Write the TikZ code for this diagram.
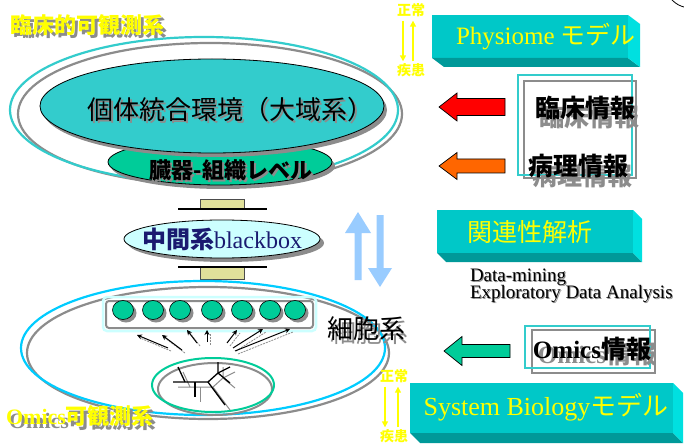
\documentclass[tikz,border=0pt]{standalone}
\usepackage{fontspec}
\setmainfont{Liberation Serif}
\newfontfamily\jp{Noto Sans CJK JP}
\usetikzlibrary{shapes.geometric,arrows.meta,calc}

\definecolor{tealfill}{HTML}{33CCCC}
\definecolor{mintfill}{HTML}{00CC99}
\definecolor{palecyan}{HTML}{CCFFFF}
\definecolor{ringcyan}{HTML}{33CCCC}
\definecolor{ringblue}{HTML}{00CCFF}
\definecolor{slabfront}{HTML}{00C8C8}
\definecolor{slabbottom}{HTML}{009999}
\definecolor{slabside}{HTML}{00E0E0}
\definecolor{shadegray}{HTML}{8C8C8C}
\definecolor{khaki}{HTML}{E0E09A}
\definecolor{skyarrow}{HTML}{99CCFF}
\definecolor{navytext}{HTML}{1A1A70}
\definecolor{arrowred}{HTML}{FF0000}
\definecolor{arroworange}{HTML}{FF6600}
\definecolor{labelyellow}{HTML}{FFFF00}

\tikzset{
  every node/.style={inner sep=0pt, outer sep=0pt},
  oval/.style={ellipse, draw=black, line width=0.8pt},
  ovalshade/.style={ellipse, fill=shadegray, draw=none},
  ring/.style={line width=2.2pt},
  slabface/.style={rectangle, fill=slabfront, draw=none},
  slabtext/.style={text=labelyellow, font=\fontsize{25}{28}\selectfont},
  bigtitle/.style={text=labelyellow, font=\jp\bfseries\fontsize{22}{26}\selectfont},
  statelabel/.style={text=labelyellow, font=\jp\bfseries\fontsize{14}{16}\selectfont},
  statearrow/.style={draw=labelyellow, line width=1.4pt, -{Triangle[length=6pt,width=6pt]}},
  infotext/.style={text=black, font=\jp\bfseries\fontsize{25}{28}\selectfont},
  notetext/.style={anchor=base west, font=\fontsize{19}{22}\selectfont},
  bead/.style={ellipse, fill=mintfill, draw=black, line width=0.6pt, minimum width=21pt, minimum height=19pt},
  beadshade/.style={ellipse, fill=shadegray, minimum width=21pt, minimum height=19pt},
  feed/.style={draw=black, line width=1pt, -{Stealth[length=5pt,width=5pt]}},
  feedshade/.style={draw=shadegray, line width=0.8pt, dash pattern=on 2pt off 1pt},
  branch/.style={draw=black, line width=1.3pt},
  branchshade/.style={draw=shadegray, line width=1pt},
  plug/.style={rectangle, fill=khaki, draw=black!70, line width=0.5pt},
}

% text with a grey drop copy behind it
\newcommand{\shadowtext}[5]{%
  \node[#3, text=shadegray, #4] at (#2) {#5};
  \node[#3] (#1) at (#2) {#5};}

% bevelled slab: name, left, top, width, height, depth x, depth y
\newcommand{\slab}[7]{%
  \node[slabface, minimum width=#4pt, minimum height=#5pt, anchor=north west] (#1) at (#2,#3) {};
  \fill[slabbottom] (#1.south west) -- (#1.south east) -- ++(#6,#7)
        -- ($(#1.south west)+(#6,#7)$) -- cycle;
  \fill[slabside] (#1.north east) -- ++(#6,#7) -- ($(#1.south east)+(#6,#7)$)
        -- (#1.south east) -- cycle;}

% left-pointing block arrow: colour, tip x, tip y, head base x, half head, half shaft, tail x
\newcommand{\blockarrow}[7]{%
  \filldraw[fill=#1, draw=black, line width=0.7pt]
    (#2,#3) -- (#4,#3-#5) -- (#4,#3-#6) -- (#7,#3-#6) -- (#7,#3+#6)
    -- (#4,#3+#6) -- (#4,#3+#5) -- cycle;}

\begin{document}
\begin{tikzpicture}[x=1pt,y=-1pt]
\useasboundingbox (0,0) rectangle (684,446);
\fill[white] (0,0) rectangle (684,446);

% ---------- upper (clinical) system ----------
\draw[ring, draw=shadegray] (210,114) ellipse [x radius=192, y radius=71];
\draw[ring, draw=ringcyan] (204,110) ellipse [x radius=194, y radius=73];

\node[ovalshade, minimum width=224pt, minimum height=46pt] at (223,166) {};
\node[oval, fill=mintfill, minimum width=224pt, minimum height=46pt] (organ) at (220,162) {};
\node[ovalshade, minimum width=344pt, minimum height=94pt] at (215,110) {};
\node[oval, fill=tealfill, minimum width=344pt, minimum height=94pt] (whole) at (212,106) {};

\shadowtext{wholetext}{230,110}{text=black, font=\jp\fontsize{26}{30}\selectfont}{xshift=2pt,yshift=-2pt}{個体統合環境（大域系）}
\shadowtext{organtext}{231,170}{text=black, font=\jp\bfseries\fontsize{22}{26}\selectfont}{xshift=2pt,yshift=-2pt}{臓器-組織レベル}

\shadowtext{clintitle}{87,25}{bigtitle}{xshift=3pt,yshift=-3pt}{臨床的可観測系}

% ---------- middle black box ----------
\node[plug, minimum width=44pt, minimum height=10pt] (plugA) at (222,204) {};
\draw[black, line width=1.1pt] (178,209) -- (267,209);
\node[ovalshade, minimum width=196pt, minimum height=38pt] at (226,243) {};
\node[oval, fill=palecyan, minimum width=196pt, minimum height=38pt] (mid) at (222,239) {};
\node[text=navytext, font=\fontsize{24}{28}\selectfont] (midtext) at (222,239)
  {{\jp\bfseries 中間系}blackbox};
\node[plug, minimum width=44pt, minimum height=12pt] (plugB) at (222,273) {};
\draw[black, line width=1.1pt] (178,267) -- (267,267);

% up / down flow arrows
\fill[skyarrow] (358,212) -- (371,233) -- (361.5,233) -- (361.5,280) -- (354.5,280)
  -- (354.5,233) -- (345,233) -- cycle;
\fill[skyarrow] (380,287) -- (392,268) -- (383.5,268) -- (383.5,215) -- (376.5,215)
  -- (376.5,268) -- (368,268) -- cycle;

% ---------- lower (omics) system ----------
\draw[ring, draw=shadegray] (208,353) ellipse [x radius=181, y radius=66];
\draw[ring, draw=ringblue] (203,348) ellipse [x radius=182, y radius=67];

\draw[line width=2pt, draw=shadegray, rounded corners=3pt] (106,301) rectangle (313,328);
\draw[line width=2.5pt, draw=palecyan, rounded corners=4pt] (103,297) rectangle (316,331);
\coordinate (strip) at (209,314);

\foreach \n/\x in {1/123,2/153,3/180,4/212,5/242,6/270,7/295}{
  \node[beadshade] at (\x+3,313) {};
  \node[bead] (c\n) at (\x,310) {};
}

% feeds from the network up to the bead strip
\foreach \n/\tx/\ty/\hx/\hy in {1/168/348/137/335, 2/182/350/162/335, 3/197/343/187/330,
    4/207/342/207/330, 5/227/343/237/330, 6/233/348/263/329, 7/235/351/290/329}{
  \coordinate (ft\n) at (\tx,\ty);
  \coordinate (fh\n) at (\hx,\hy);
  \draw[feedshade] ([xshift=3pt,yshift=-3pt]ft\n) -- ([xshift=3pt,yshift=-3pt]fh\n);
  \draw[feed] (ft\n) -- (fh\n);
}

% network ellipse with its branching graph
\draw[line width=2pt, draw=shadegray] (215,389) ellipse [x radius=57, y radius=26];
\draw[line width=2pt, draw=mintfill] (213,385) ellipse [x radius=61, y radius=27];
\coordinate (hubA) at (208,382);
\coordinate (hubB) at (218,373);
\begin{scope}[shift={(5,5)}]
  \draw[branchshade] (173,382) -- (208,382) -- (225,405);
  \draw[branchshade] (185,382) -- (178,367);
  \draw[branchshade] (195,382) -- (195,397);
  \draw[branchshade] (208,382) -- (218,373) -- (218,362);
  \draw[branchshade] (218,373) -- (230,367);
  \draw[branchshade] (218,373) -- (230,383);
\end{scope}
\draw[branch] (173,382) -- (hubA) -- (225,405);
\draw[branch] (185,382) -- (178,367);
\draw[branch] (195,382) -- (195,397);
\draw[branch] (hubA) -- (hubB) -- (218,362);
\draw[branch] (hubB) -- (230,367);
\draw[branch] (hubB) -- (230,383);

\shadowtext{celltext}{366,329}{text=black, font=\jp\fontsize{26}{30}\selectfont}{xshift=3pt,yshift=-4pt}{細胞系}
\shadowtext{omicstitle}{80,416}{text=labelyellow, font=\bfseries\fontsize{22}{26}\selectfont}{xshift=3pt,yshift=-4pt}{Omics{\jp\bfseries 可観測系}}

% ---------- right column ----------
\slab{physiome}{432}{15}{196}{43}{12}{9}
\node[slabtext] (physiometext) at (546,37) {Physiome {\jp モデル}};

\slab{relation}{437}{210}{196}{43}{9}{9}
\node[slabtext, font=\jp\fontsize{25}{28}\selectfont] (relationtext) at (530,232) {関連性解析};

\slab{sysbio}{410}{383}{263}{50}{10}{10}
\node[slabtext, font=\fontsize{26}{30}\selectfont] (sysbiotext) at (546,407) {System Biology{\jp モデル}};

% normal / disease state markers
\node[statelabel] (normA) at (411,10) {正常};
\node[statelabel] (illA) at (411,70) {疾患};
\draw[statearrow] ([xshift=-8pt,yshift=-4pt]normA.south) -- ([xshift=-8pt,yshift=2pt]illA.north);
\draw[statearrow] ([xshift=2pt,yshift=2pt]illA.north) -- ([xshift=2pt,yshift=-4pt]normA.south);

\node[statelabel] (normB) at (394,376) {正常};
\node[statelabel] (illB) at (394,436) {疾患};
\draw[statearrow] ([xshift=-9pt,yshift=-4pt]normB.south) -- ([xshift=-9pt,yshift=2pt]illB.north);
\draw[statearrow] ([xshift=4pt,yshift=2pt]illB.north) -- ([xshift=4pt,yshift=-4pt]normB.south);

% clinical / pathology information
\draw[line width=2pt, draw=shadegray] (524,81) rectangle (636,178);
\draw[line width=2pt, draw=ringcyan] (518,75) rectangle (632,175);
\shadowtext{clininfo}{585,108}{infotext}{xshift=4pt,yshift=-9pt}{臨床情報}
\shadowtext{pathinfo}{578,166}{infotext}{xshift=4pt,yshift=-10pt}{病理情報}

\blockarrow{arrowred}{439}{107}{457}{14}{8.5}{505}
\blockarrow{arroworange}{439}{166}{457}{13.5}{7}{505}

% data mining notes
\node[notetext, text=shadegray] at (471,282) {Data-mining};
\node[notetext, text=black] (dm) at (470,281) {Data-mining};
\node[notetext, text=shadegray] at (471,299) {Exploratory Data Analysis};
\node[notetext, text=black] (eda) at (470,298) {Exploratory Data Analysis};

% omics information
\draw[line width=2pt, draw=shadegray] (532,330) rectangle (655,373);
\draw[line width=2pt, draw=ringcyan] (525,326) rectangle (650,368);
\shadowtext{omicsinfo}{592,349}{text=black, font=\bfseries\fontsize{25}{28}\selectfont}{xshift=5pt,yshift=-5pt}{Omics{\jp 情報}}
\blockarrow{mintfill}{444}{351}{462}{14.5}{6.5}{510}

% edge of a shape at the top right corner
\draw[black, line width=0.8pt] (672,0) .. controls (676,4) and (680,6) .. (684,7);
\end{tikzpicture}
\end{document}
